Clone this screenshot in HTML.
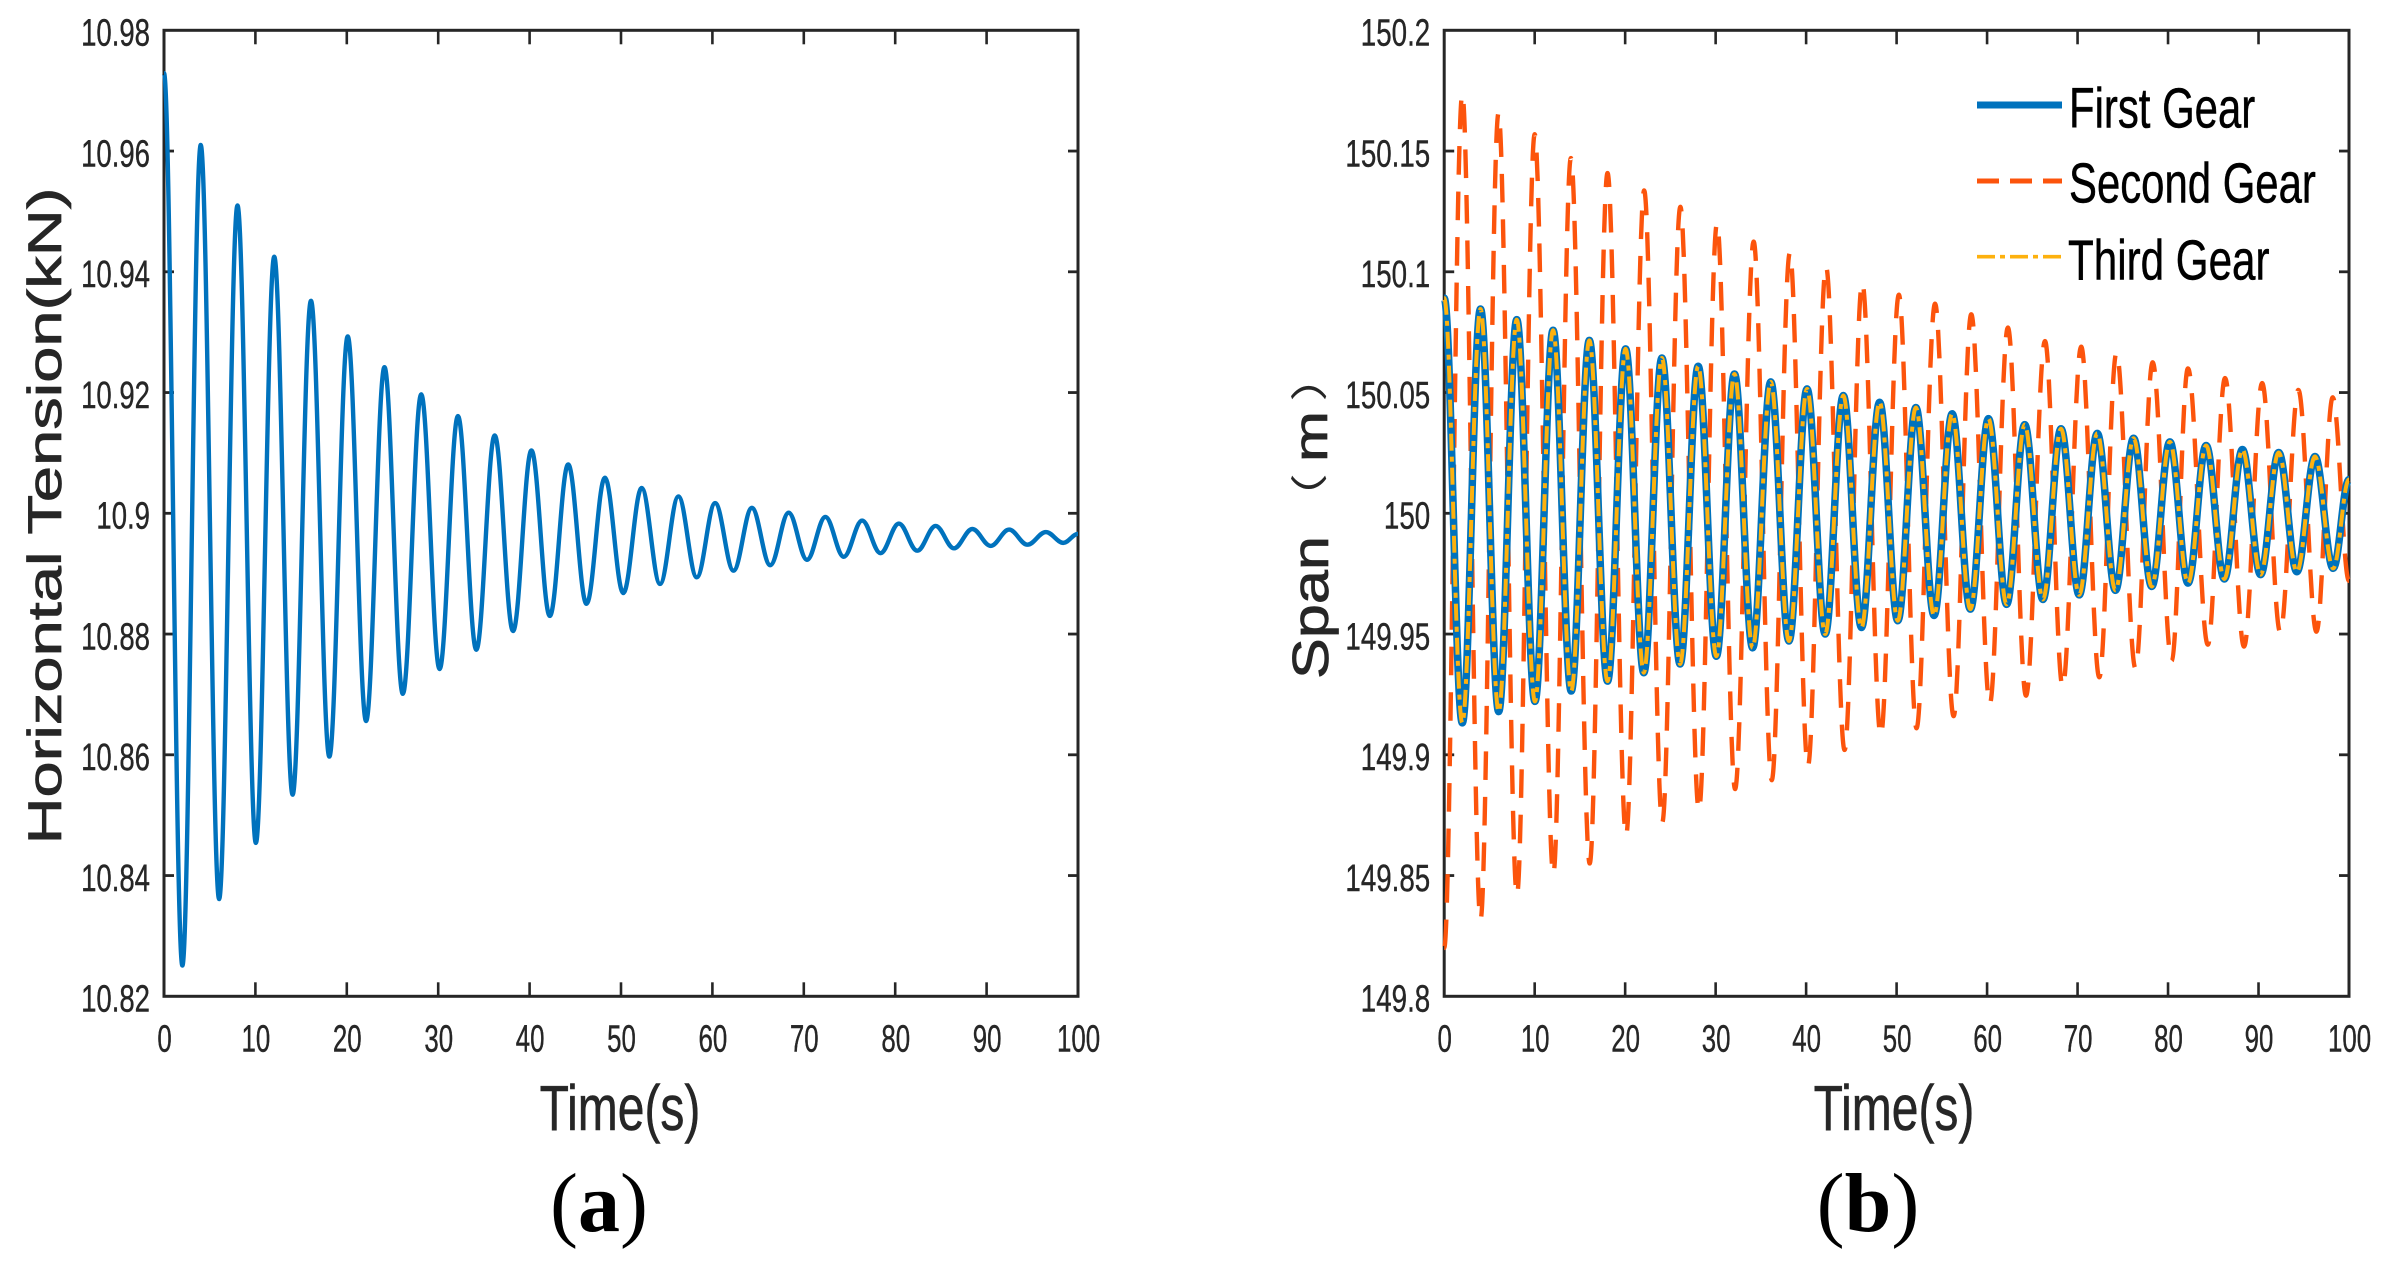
<!DOCTYPE html>
<html lang="en">
<head>
<meta charset="utf-8">
<title>Horizontal Tension and Span vs Time</title>
<style>
html,body{margin:0;padding:0;background:#fff;width:2390px;height:1267px;overflow:hidden}
svg{display:block;font-family:"Liberation Sans","Noto Sans CJK SC",sans-serif}
</style>
</head>
<body>
<svg id="fig" xmlns="http://www.w3.org/2000/svg" width="2390" height="1267" viewBox="0 0 2390 1267">
  <g id="panelA"></g>
  <g id="panelB"></g>
  <text transform="translate(61,516) rotate(-90) scale(1.37,1)" text-anchor="middle" font-size="47.5" fill="#262626" stroke="#262626" stroke-width=".7">Horizontal Tension(kN)</text>
  <g fill="#262626">
    <text transform="translate(1328,679) rotate(-90) scale(1.2,1)" font-size="51" stroke="#262626" stroke-width=".7">Span</text>
    <text transform="translate(1322.5,525) rotate(-90) scale(1.4,1)" font-size="37" style="font-family:'Noto Sans CJK SC',sans-serif">（</text>
    <text transform="translate(1327,436.5) rotate(-90) scale(1.3,1)" text-anchor="middle" font-size="47" stroke="#262626" stroke-width=".7">m</text>
    <text transform="translate(1322.5,401.6) rotate(-90) scale(1.4,1)" font-size="37" style="font-family:'Noto Sans CJK SC',sans-serif">）</text>
  </g>
  <text transform="translate(620,1130) scale(.75,1)" text-anchor="middle" font-size="64" fill="#262626" stroke="#262626" stroke-width=".6">Time(s)</text>
  <text transform="translate(1894,1130) scale(.75,1)" text-anchor="middle" font-size="64" fill="#262626" stroke="#262626" stroke-width=".6">Time(s)</text>
  <text transform="translate(599,1231)" text-anchor="middle" font-size="84" fill="#000" style="font-family:'Liberation Serif',serif">(<tspan font-weight="bold">a</tspan>)</text>
  <text transform="translate(1868,1231)" text-anchor="middle" font-size="84" fill="#000" style="font-family:'Liberation Serif',serif">(<tspan font-weight="bold">b</tspan>)</text>
  <g>
    <line x1="1977" x2="2062" y1="105" y2="105" stroke="#0072bd" stroke-width="7"/>
    <text transform="translate(2069,127.3) scale(.735,1)" font-size="57" fill="#000" stroke="#000" stroke-width=".5">First Gear</text>
    <line x1="1977" x2="2062" y1="181" y2="181" stroke="#fc540c" stroke-width="5" stroke-dasharray="22 11"/>
    <text transform="translate(2069,202.7) scale(.735,1)" font-size="57" fill="#000" stroke="#000" stroke-width=".5">Second Gear</text>
    <line x1="1977" x2="2062" y1="256.7" y2="256.7" stroke="#fdb10e" stroke-width="3.6" stroke-dasharray="18 5 5 5"/>
    <text transform="translate(2068,279.3) scale(.74,1)" font-size="57" fill="#000" stroke="#000" stroke-width=".5">Third Gear</text>
  </g>
</svg>
<script>
// ---------- Panel (a): extrema ----------
const tensionTimes = [0,2.01,4.02,6.03,8.04,10.05,12.06,14.07,16.08,18.09,20.1,22.11,24.12,26.13,28.14,30.15,32.16,34.17,36.18,38.19,40.2,42.21,44.22,46.23,48.24,50.25,52.26,54.27,56.28,58.29,60.3,62.31,64.32,66.33,68.34,70.35,72.36,74.37,76.38,78.39,80.4,82.41,84.42,86.43,88.44,90.45,92.46,94.47,96.48,98.4,100];
const tensionValues = [10.9729,10.8251,10.961,10.8361,10.951,10.8454,10.9425,10.8534,10.9352,10.8597,10.9293,10.8656,10.9242,10.8701,10.9197,10.8742,10.9161,10.8774,10.9129,10.8805,10.9104,10.883,10.9081,10.885,10.9059,10.8868,10.9042,10.8883,10.9028,10.8894,10.9017,10.8905,10.9009,10.8914,10.9001,10.8923,10.8994,10.8928,10.8988,10.8934,10.8983,10.8938,10.8979,10.8942,10.8974,10.8946,10.8973,10.8948,10.8969,10.8951,10.8966];
const tensionXTicks = [0,10,20,30,40,50,60,70,80,90,100];
const tensionYTicks = [10.82,10.84,10.86,10.88,10.9,10.92,10.94,10.96,10.98];
const tensionYLabels = ["10.82","10.84","10.86","10.88","10.9","10.92","10.94","10.96","10.98"];

// ---------- Panel (b): extrema ----------
const firstGearTimes = [0,2,4.01,6.02,8.02,10.03,12.03,14.04,16.04,18.05,20.05,22.06,24.06,26.07,28.07,30.08,32.08,34.09,36.09,38.1,40.1,42.11,44.11,46.12,48.12,50.13,52.13,54.14,56.14,58.15,60.15,62.16,64.16,66.17,68.17,70.18,72.18,74.19,76.19,78.2,80.2,82.21,84.21,86.22,88.22,90.23,92.23,94.24,96.24,98.25,100];
const firstGearValues = [150.0891,149.9132,150.0846,149.9179,150.0802,149.9221,150.0758,149.9264,150.0716,149.9305,150.0681,149.934,150.0643,149.9376,150.0609,149.9408,150.0577,149.9443,150.0544,149.9471,150.0515,149.95,150.0488,149.9527,150.046,149.9555,150.0438,149.9577,150.0412,149.9603,150.0392,149.9623,150.0367,149.9643,150.035,149.9662,150.0331,149.9681,150.0311,149.9697,150.0296,149.9711,150.0281,149.9728,150.0264,149.9746,150.0252,149.9758,150.0235,149.9772,150.014];
const thirdGearTimes = [0,2,4.01,6.02,8.02,10.03,12.03,14.04,16.04,18.05,20.05,22.06,24.06,26.07,28.07,30.08,32.08,34.09,36.09,38.1,40.1,42.11,44.11,46.12,48.12,50.13,52.13,54.14,56.14,58.15,60.15,62.16,64.16,66.17,68.17,70.18,72.18,74.19,76.19,78.2,80.2,82.21,84.21,86.22,88.22,90.23,92.23,94.24,96.24,98.25,100];
const thirdGearValues = [150.0891,149.9132,150.0846,149.9179,150.0802,149.9221,150.0758,149.9264,150.0716,149.9305,150.0681,149.934,150.0643,149.9376,150.0609,149.9408,150.0577,149.9443,150.0544,149.9471,150.0515,149.95,150.0488,149.9527,150.046,149.9555,150.0438,149.9577,150.0412,149.9603,150.0392,149.9623,150.0367,149.9643,150.035,149.9662,150.0331,149.9681,150.0311,149.9697,150.0296,149.9711,150.0281,149.9728,150.0264,149.9746,150.0252,149.9758,150.0235,149.9772,150.014];
const secondGearTimes = [0,2,4.02,6,8.04,10,12.06,14,16.08,18.05,20.1,22.1,24.1,26.1,28.15,30.15,32.15,34.2,36.2,38.2,40.2,42.2,44.25,46.2,48.25,50.25,52.2,54.25,56.3,58.25,60.3,62.3,64.3,66.4,68.35,70.4,72.4,74.3,76.4,78.3,80.4,82.2,84.4,86.3,88.4,90.4,92.4,94.4,96.4,98.2,100];
const secondGearValues = [149.82,150.1736,149.8318,150.1657,149.8419,150.157,149.8506,150.1471,149.855,150.1409,149.8666,150.1337,149.872,150.1269,149.877,150.12,149.8858,150.1125,149.8895,150.1078,149.8954,150.1021,149.902,150.0955,149.908,150.0905,149.911,150.0868,149.916,150.0824,149.9211,150.0769,149.9245,150.0713,149.9282,150.069,149.9321,150.0665,149.9358,150.0625,149.9389,150.06,149.9456,150.056,149.9448,150.0539,149.9507,150.0511,149.951,150.048,149.972];
const spanXTicks = [0,10,20,30,40,50,60,70,80,90,100];
const spanYTicks = [149.8,149.85,149.9,149.95,150,150.05,150.1,150.15,150.2];
const spanYLabels = ["149.8","149.85","149.9","149.95","150","150.05","150.1","150.15","150.2"];

const SVGNS = "http://www.w3.org/2000/svg";
function mk(tag, parent, attrs) {
  const el = document.createElementNS(SVGNS, tag);
  for (const k in attrs) el.setAttribute(k, attrs[k]);
  parent.appendChild(el);
  return el;
}
function scaleLinear(d0, d1, r0, r1) {
  return function (v) { return r0 + (v - d0) / (d1 - d0) * (r1 - r0); };
}
// Smooth curve through extrema: horizontal tangents at each turning point.
function curvePath(times, values, xs, ys) {
  let d = "M" + xs(times[0]).toFixed(2) + " " + ys(values[0]).toFixed(2);
  for (let i = 1; i < times.length; i++) {
    const x0 = xs(times[i - 1]), x1 = xs(times[i]);
    const y0 = ys(values[i - 1]), y1 = ys(values[i]);
    const c = (x1 - x0) * 0.3642;
    d += "C" + (x0 + c).toFixed(2) + " " + y0.toFixed(2) + " " + (x1 - c).toFixed(2) + " " + y1.toFixed(2) + " " + x1.toFixed(2) + " " + y1.toFixed(2);
  }
  return d;
}
function drawAxes(g, box, xs, ys, xTicks, yTicks, yLabels, labelScale, axisPrefix) {
  const frame = mk("rect", g, {x: box.l, y: box.t, width: box.r - box.l, height: box.b - box.t, fill: "none", stroke: "#262626", "stroke-width": 3});
  
  
  xTicks.forEach(function (t) {
    const x = xs(t);
    if (t !== xTicks[0] && t !== xTicks[xTicks.length - 1]) {
      const a = mk("line", g, {x1: x, x2: x, y1: box.b, y2: box.b - 14, stroke: "#262626", "stroke-width": 2.6});
      
      
      const b = mk("line", g, {x1: x, x2: x, y1: box.t, y2: box.t + 14, stroke: "#262626", "stroke-width": 2.6});
      
      
    }
    const lab = mk("text", g, {transform: "translate(" + (x + 0.5) + ",1051.3) scale(.68,1)", "text-anchor": "middle", "font-size": 38, fill: "#262626", stroke: "#262626", "stroke-width": 0.4});
    lab.textContent = String(t);
    
    
  });
  yTicks.forEach(function (v, i) {
    const y = ys(v);
    if (i !== 0 && i !== yTicks.length - 1) {
      const a = mk("line", g, {x1: box.l, x2: box.l + 10, y1: y, y2: y, stroke: "#262626", "stroke-width": 2.8});
      
      
      const b = mk("line", g, {x1: box.r, x2: box.r - 10, y1: y, y2: y, stroke: "#262626", "stroke-width": 2.8});
      
      
    }
    const lab = mk("text", g, {transform: "translate(" + (box.l - 14) + "," + (y + 15.4) + ") scale(" + labelScale + ",1)", "text-anchor": "end", "font-size": 38, fill: "#262626", stroke: "#262626", "stroke-width": 0.4});
    lab.textContent = yLabels[i];
    
    
  });
}

// Panel (a)
const gA = document.getElementById("panelA");
const boxA = {l: 164, r: 1078, t: 30.3, b: 996.3};
const xA = scaleLinear(0, 100, boxA.l, boxA.r);
const yA = scaleLinear(10.82, 10.98, boxA.b, boxA.t);
drawAxes(gA, boxA, xA, yA, tensionXTicks, tensionYTicks, tensionYLabels, 0.725, "panel-a");
const tensionLine = mk("path", gA, {d: curvePath(tensionTimes, tensionValues, xA, yA), fill: "none", stroke: "#0072bd", "stroke-width": 4.4, "stroke-linejoin": "round"});



// Panel (b)
const gB = document.getElementById("panelB");
const boxB = {l: 1444.2, r: 2349, t: 30.3, b: 996.3};
const xB = scaleLinear(0, 100, boxB.l, boxB.r);
const yB = scaleLinear(149.8, 150.2, boxB.b, boxB.t);
drawAxes(gB, boxB, xB, yB, spanXTicks, spanYTicks, spanYLabels, 0.73, "panel-b");
const secondLine = mk("path", gB, {d: curvePath(secondGearTimes, secondGearValues, xB, yB), fill: "none", stroke: "#fc540c", "stroke-width": 4.4, "stroke-dasharray": "28.6 16.9"});


const firstLine = mk("path", gB, {d: curvePath(firstGearTimes, firstGearValues, xB, yB), fill: "none", stroke: "#0072bd", "stroke-width": 7.5, "stroke-linejoin": "round"});


const thirdLine = mk("path", gB, {d: curvePath(thirdGearTimes, thirdGearValues, xB, yB), fill: "none", stroke: "#fdb10e", "stroke-width": 4, "stroke-dasharray": "17 6 5 6"});


</script>
</body>
</html>
